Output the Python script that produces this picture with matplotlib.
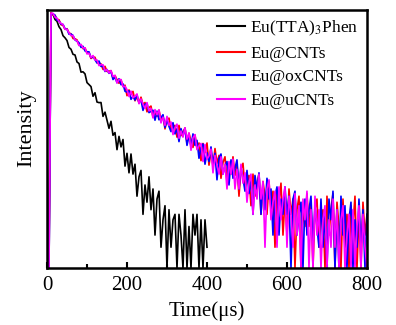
import numpy as np
import matplotlib
matplotlib.use('Agg')
import matplotlib.pyplot as plt
from matplotlib.ticker import MultipleLocator, NullLocator

plt.rcParams['font.family'] = ['Liberation Serif', 'DejaVu Serif']
plt.rcParams['mathtext.fontset'] = 'stix'

# decay curves, counts, one value every 5 us
t_step = 5
labels = ['Eu(TTA)$_3$Phen', 'Eu@CNTs', 'Eu@oxCNTs', 'Eu@uCNTs']
colors = ['black', 'red', 'blue', 'magenta']

eu_phen = [1, 1, 4990, 4762, 4014, 3781, 3150, 2869, 2337, 2177,
           1988, 1577, 1487, 1254, 1229, 972, 923, 692, 700, 653,
           488, 457, 427, 309, 348, 255, 250, 251, 158, 182,
           139, 106, 134, 84, 92, 52, 81, 57, 73, 30,
           46, 24, 45, 23, 32, 11, 21, 26, 6, 16,
           9, 21, 7, 14, 3, 10, 13, 2, 5, 8,
           1, 7, 2, 5, 6, 1, 6, 3, 1, 7,
           1, 4, 1, 6, 3, 6, 1, 5, 1, 5,
           2]

eu_cnt = [1, 2, 5042, 4655, 4614, 4051, 3979, 3370, 3301, 2901,
          2953, 2564, 2489, 2127, 2109, 2034, 1698, 1696, 1517, 1553,
          1317, 1323, 1090, 1147, 1135, 949, 934, 913, 758, 841,
          708, 713, 727, 568, 619, 538, 477, 536, 430, 448,
          315, 382, 328, 364, 266, 306, 247, 300, 234, 251,
          184, 212, 223, 155, 182, 158, 194, 142, 161, 104,
          140, 149, 102, 110, 117, 79, 117, 83, 94, 107,
          64, 90, 70, 56, 85, 54, 65, 36, 64, 47,
          65, 31, 48, 30, 54, 33, 43, 20, 34, 41,
          18, 32, 23, 41, 22, 32, 11, 27, 33, 14,
          18, 22, 8, 23, 11, 17, 23, 6, 18, 11,
          6, 18, 7, 13, 2, 14, 9, 17, 3, 10,
          3, 14, 6, 10, 1, 7, 11, 1, 7, 4,
          12, 4, 9, 1, 7, 10, 2, 5, 7, 1,
          11, 3, 7, 12, 1, 9, 4, 1, 10, 2,
          6, 1, 8, 4, 11, 1, 6, 1, 9, 3,
          6]

eu_ox = [1, 1, 4816, 4864, 4627, 3917, 3825, 3435, 3404, 2951,
         2900, 2452, 2469, 2359, 2027, 1941, 1847, 1578, 1639, 1404,
         1368, 1363, 1118, 1167, 1044, 940, 1004, 838, 847, 707,
         756, 664, 707, 541, 583, 487, 555, 455, 467, 365,
         356, 370, 279, 309, 272, 323, 250, 273, 193, 237,
         243, 179, 187, 194, 139, 188, 141, 152, 167, 109,
         140, 113, 95, 128, 88, 104, 68, 105, 83, 106,
         60, 83, 58, 88, 60, 71, 39, 56, 63, 32,
         47, 35, 57, 33, 46, 19, 39, 45, 23, 30,
         35, 16, 37, 20, 28, 37, 14, 29, 20, 13,
         26, 12, 19, 6, 22, 14, 24, 6, 16, 7,
         20, 10, 14, 3, 11, 15, 3, 10, 6, 15,
         6, 11, 1, 10, 13, 3, 6, 9, 1, 10,
         3, 7, 11, 2, 8, 4, 2, 10, 2, 6,
         1, 10, 5, 13, 1, 7, 1, 11, 3, 8,
         1, 5, 9, 1, 5, 2, 10, 2, 7, 1,
         6]

eu_u = [1, 1, 4986, 4927, 4332, 4198, 3726, 3530, 3398, 2885,
        2894, 2574, 2336, 2350, 2036, 1977, 1681, 1750, 1548, 1560,
        1269, 1302, 1128, 1204, 1037, 1038, 860, 886, 885, 718,
        752, 671, 729, 598, 621, 482, 538, 541, 426, 431,
        386, 307, 367, 295, 310, 334, 241, 283, 238, 206,
        250, 190, 206, 150, 198, 167, 197, 127, 154, 117,
        158, 117, 131, 86, 108, 122, 76, 97, 79, 108,
        74, 91, 51, 77, 86, 52, 59, 64, 35, 62,
        38, 42, 53, 24, 43, 31, 23, 41, 23, 32,
        14, 35, 23, 38, 14, 27, 14, 32, 17, 24,
        9, 17, 23, 6, 16, 10, 23, 10, 18, 2,
        14, 19, 5, 9, 13, 2, 15, 5, 10, 15,
        2, 11, 6, 2, 12, 3, 8, 1, 10, 5,
        13, 1, 7, 1, 11, 3, 7, 1, 5, 8,
        1, 5, 2, 10, 2, 7, 1, 5, 8, 1,
        3, 6, 1, 7, 1, 4, 8, 1, 6, 2,
        1]

series = [eu_phen, eu_cnt, eu_ox, eu_u]

fig = plt.figure(figsize=(3.96, 3.25), dpi=100)
ax = fig.add_axes([0.1187, 0.1754, 0.808, 0.794])

for vals, lab, col in zip(series, labels, colors):
    y = np.array(vals, dtype=float)
    t = np.arange(len(y)) * t_step
    ax.plot(t, y, color=col, lw=1.2, label=lab)

ax.set_yscale('log')
ax.set_ylim(1, 5520)
ax.set_xlim(0, 800)
ax.yaxis.set_major_locator(NullLocator())
ax.yaxis.set_minor_locator(NullLocator())
ax.xaxis.set_major_locator(MultipleLocator(200))
ax.xaxis.set_minor_locator(MultipleLocator(100))
ax.tick_params(axis='x', which='both', direction='in', width=1.5, labelsize=15, pad=6)
ax.tick_params(axis='x', which='major', length=4)
ax.tick_params(axis='x', which='minor', length=3)
for s in ax.spines.values():
    s.set_linewidth(1.8)

ax.set_xlabel('Time(\u03bcs)', fontsize=15, labelpad=4)
ax.set_ylabel('Intensity', fontsize=16, labelpad=8)
ax.yaxis.label.set_y(0.543)

leg = ax.legend(loc='upper right', bbox_to_anchor=(0.985, 0.98), frameon=False,
                fontsize=12.5, handlelength=1.6, handletextpad=0.3,
                labelspacing=0.44, borderaxespad=0, borderpad=0.2)
for h in leg.get_lines():
    h.set_linewidth(1.5)

fig.savefig('out.png', dpi=100)
